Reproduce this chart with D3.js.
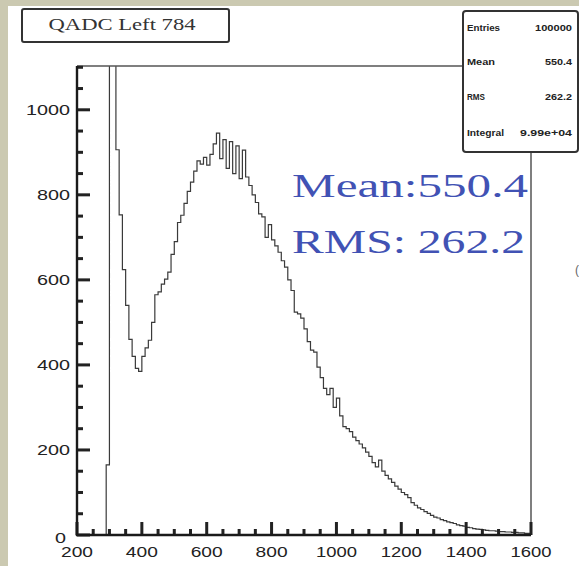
<!DOCTYPE html>
<html>
<head>
<meta charset="utf-8">
<script src="https://cdn.jsdelivr.net/npm/d3@7/dist/d3.min.js"></script>
<style>
  html, body { margin: 0; padding: 0; background: #ffffff; }
  svg { display: block; }
</style>
</head>
<body>
<script>
// ---------- DATA ----------
const title = "QADC Left 784";
const binLow = 290;
const binWidth = 10;
const counts = [
  165, 2400, 1600, 906, 753, 624, 540, 460, 420, 392,
  385, 420, 440, 458, 500, 565, 572, 590, 602, 618,
  660, 690, 735, 752, 780, 808, 830, 856, 880, 872,
  888, 870, 895, 920, 945, 885, 930, 862, 925, 850,
  915, 838, 905, 842, 822, 800, 782, 755, 748, 700,
  730, 694, 680, 665, 645, 630, 600, 575, 524, 520,
  510, 485, 455, 435, 430, 395, 370, 345, 330, 345,
  300, 322, 280, 255, 250, 243, 230, 222, 214, 205,
  195, 185, 170, 160, 176, 150, 140, 132, 124, 115,
  108, 100, 95, 88, 76, 70, 64, 60, 55, 51,
  46, 42, 40, 36, 34, 31, 29, 27, 24, 22,
  21, 18, 17, 15, 14, 13, 12, 11, 10, 10,
  9, 8, 8, 7, 7, 6, 6, 5, 5, 4, 4
];
const xMajorTicks = [200, 400, 600, 800, 1000, 1200, 1400, 1600];
const yMajorTicks = [0, 200, 400, 600, 800, 1000];
const xMinorTicks = [250, 300, 350, 450, 500, 550, 650, 700, 750, 850, 900, 950, 1050, 1100, 1150, 1250, 1300, 1350, 1450, 1500, 1550];
const yMinorTicks = [50, 100, 150, 250, 300, 350, 450, 500, 550, 650, 700, 750, 850, 900, 950, 1050, 1100];
const xDomain = [200, 1600];
const yDomain = [0, 1103];
const statLabels = ["Entries", "Mean", "RMS", "Integral"];
const statValues = ["100000", "550.4", "262.2", "9.99e+04"];
const annotations = ["Mean:550.4", "RMS: 262.2"];

// ---------- LAYOUT ----------
const W = 579, H = 566;
const plot = { left: 77, right: 531, top: 66, bottom: 535 };

const svg = d3.select("body").append("svg").attr("width", W).attr("height", H);

const beige = "#cbc9b1";
svg.append("rect").attr("x", 0).attr("y", 0).attr("width", W).attr("height", H).attr("fill", "#ffffff");
svg.append("rect").attr("x", 0).attr("y", 0).attr("width", 8).attr("height", H).attr("fill", beige);
svg.append("rect").attr("x", 0).attr("y", 0).attr("width", W).attr("height", 6).attr("fill", beige);

const x = d3.scaleLinear().domain(xDomain).range([plot.left, plot.right]);
const y = d3.scaleLinear().domain(yDomain).range([plot.bottom, plot.top]);

svg.append("defs").append("clipPath").attr("id", "clip")
  .append("rect").attr("x", plot.left).attr("y", plot.top)
  .attr("width", plot.right - plot.left).attr("height", plot.bottom - plot.top);

const bins = counts.map((c, i) => ({ lo: binLow + i * binWidth, hi: binLow + (i + 1) * binWidth, c }));
const pts = [[x(bins[0].lo), y(0)]];
bins.forEach(b => { pts.push([x(b.lo), y(b.c)]); pts.push([x(b.hi), y(b.c)]); });
pts.push([x(bins[bins.length - 1].hi), y(0)]);
svg.append("path")
  .attr("clip-path", "url(#clip)")
  .attr("d", d3.line()(pts))
  .attr("fill", "none")
  .attr("stroke", "#3a3a3a")
  .attr("stroke-width", 1.2);

svg.append("line").attr("x1", plot.left).attr("x2", plot.right).attr("y1", plot.top).attr("y2", plot.top)
  .attr("stroke", "#555").attr("stroke-width", 1.5);
svg.append("line").attr("x1", plot.right).attr("x2", plot.right).attr("y1", plot.top).attr("y2", plot.bottom)
  .attr("stroke", "#555").attr("stroke-width", 1.5);

const fontAxis = "'Liberation Sans', Arial, sans-serif";

// ticks (inward), positioned by the scales
const tickColor = "#222";
svg.append("g").selectAll("rect.yt").data(yMajorTicks.concat(yMinorTicks)).join("rect").attr("class", "yt")
  .attr("x", plot.left)
  .attr("y", d => y(d) - 1.5)
  .attr("width", d => yMajorTicks.includes(d) ? 13 : 6)
  .attr("height", 3)
  .attr("fill", tickColor);
svg.append("g").selectAll("rect.xt").data(xMajorTicks.concat(xMinorTicks)).join("rect").attr("class", "xt")
  .attr("x", d => x(d) - 1.5)
  .attr("y", d => plot.bottom - (xMajorTicks.includes(d) ? 13 : 6))
  .attr("width", 3)
  .attr("height", d => xMajorTicks.includes(d) ? 13 : 6)
  .attr("fill", tickColor);

svg.append("g").selectAll("text").data(yMajorTicks).join("text")
  .attr("x", d => d === 0 ? 66 : 70)
  .attr("y", d => y(d))
  .attr("dy", d => d === 0 ? "0.55em" : "0.35em")
  .attr("text-anchor", "end")
  .attr("textLength", d => String(d).length * 11).attr("lengthAdjust", "spacingAndGlyphs")
  .style("font-family", fontAxis).style("font-size", "14px").attr("fill", "#222")
  .text(d => d3.format("d")(d));
svg.append("g").selectAll("text").data(xMajorTicks).join("text")
  .attr("x", d => x(d))
  .attr("y", 557)
  .attr("text-anchor", "middle")
  .attr("textLength", d => String(d).length === 4 ? 41 : 32).attr("lengthAdjust", "spacingAndGlyphs")
  .style("font-family", fontAxis).style("font-size", "14px").attr("fill", "#222")
  .text(d => d3.format("d")(d));

svg.append("line").attr("x1", plot.left).attr("x2", plot.left).attr("y1", plot.top).attr("y2", plot.bottom + 1)
  .attr("stroke", "#1a1a1a").attr("stroke-width", 2.4);
svg.append("line").attr("x1", plot.left - 1).attr("x2", plot.right).attr("y1", plot.bottom).attr("y2", plot.bottom)
  .attr("stroke", "#1a1a1a").attr("stroke-width", 2.4);

svg.append("rect").attr("x", 22).attr("y", 9).attr("width", 207).attr("height", 33)
  .attr("rx", 2).attr("fill", "#fff").attr("stroke", "#333").attr("stroke-width", 2);
svg.append("text").attr("x", 122).attr("y", 30).attr("text-anchor", "middle")
  .attr("textLength", 147).attr("lengthAdjust", "spacingAndGlyphs")
  .style("font-family", "'Liberation Serif', 'Times New Roman', serif").style("font-size", "16px")
  .attr("fill", "#333").text(title);

svg.append("rect").attr("x", 463).attr("y", 11).attr("width", 115).attr("height", 141)
  .attr("rx", 3).attr("fill", "#fff").attr("stroke", "#333").attr("stroke-width", 2);
const rowY = [28, 62, 97, 133];
const labLen = [33, 28, 18, 37];
const valLen = [37, 27, 27, 52];
statLabels.forEach((l, i) => {
  svg.append("text").attr("x", 467).attr("y", rowY[i]).attr("dy", "0.35em")
    .attr("textLength", labLen[i]).attr("lengthAdjust", "spacingAndGlyphs")
    .style("font-family", fontAxis).style("font-size", "9px").style("font-weight", "bold")
    .attr("fill", "#222").text(l);
  svg.append("text").attr("x", 572).attr("y", rowY[i]).attr("dy", "0.35em").attr("text-anchor", "end")
    .attr("textLength", valLen[i]).attr("lengthAdjust", "spacingAndGlyphs")
    .style("font-family", fontAxis).style("font-size", "9px").style("font-weight", "bold")
    .attr("fill", "#222").text(statValues[i]);
});

const annY = [197, 253];
const annLen = [236, 233];
annotations.forEach((t, i) => {
  svg.append("text").attr("x", 292).attr("y", annY[i])
    .attr("textLength", annLen[i]).attr("lengthAdjust", "spacingAndGlyphs")
    .style("font-family", "'Liberation Serif', 'Times New Roman', serif").style("font-size", "34px")
    .attr("fill", "#4152b4").text(t);
});

svg.append("text").attr("x", 575).attr("y", 274)
  .style("font-family", fontAxis).style("font-size", "12px").attr("fill", "#666").text("(");
</script>
</body>
</html>
